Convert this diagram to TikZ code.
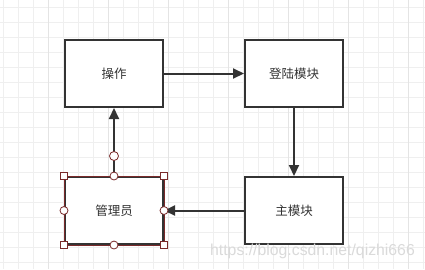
\documentclass[tikz,border=0pt]{standalone}
\usepackage{fontspec}
\newfontfamily\cjk{Noto Sans CJK SC}
\newfontfamily\wmfont{Liberation Sans}
\usetikzlibrary{arrows.meta}
\definecolor{ink}{HTML}{333333}
\definecolor{gridminor}{HTML}{EFEFEF}
\definecolor{gridmajor}{HTML}{E4E4E4}
\definecolor{selred}{HTML}{7A2A2A}
\definecolor{wm}{HTML}{DADADA}
\begin{document}
\begin{tikzpicture}[x=1pt,y=-1pt,
  box/.style={draw=ink,line width=2pt,fill=white,minimum width=98pt,minimum height=67pt,inner sep=0pt,font=\cjk\fontsize{12.5}{14}\selectfont,text=ink},
  conn/.style={draw=ink,line width=2pt,-{Triangle[length=11pt,width=10pt]}},
  hsq/.style={draw=selred,fill=white,line width=0.8pt,minimum size=6.5pt,inner sep=0pt,rectangle},
  hci/.style={draw=selred,fill=white,line width=0.8pt,minimum size=8pt,inner sep=0pt,circle}]
\useasboundingbox (0,0) rectangle (425,269);
\fill[white] (0,0) rectangle (425,269);
% grid
\foreach \i in {0,...,28} {
  \pgfmathsetmacro{\xx}{3+15*\i}
  \draw[gridminor,line width=1pt] (\xx,0) -- (\xx,269);
}
\foreach \j in {0,...,17} {
  \pgfmathsetmacro{\yy}{7+15*\j}
  \draw[gridminor,line width=1pt] (0,\yy) -- (425,\yy);
}
\foreach \xx in {48,108,168,228,288,348,408} {
  \draw[gridmajor,line width=1pt] (\xx,0) -- (\xx,269);
}
% boxes
\node[box] (op) at (114,73.5) {操作};
\node[box] (login) at (294,73.5) {登陆模块};
\node[box] (main) at (294,210.5) {主模块};
\node[box] (admin) at (114,210.5) {管理员};
% connectors
\draw[conn] (op.east) -- (login.west);
\draw[conn] (login.south) -- (main.north);
\draw[conn] (main.west) -- (admin.east);
\draw[conn] (admin.north) -- (op.south);
% selection overlay
\draw[selred,line width=0.8pt] (admin.north west) rectangle (admin.south east);
\node[hsq] (s1) at (admin.north west) {};
\node[hsq] (s2) at (admin.north east) {};
\node[hsq] (s3) at (admin.south west) {};
\node[hsq] (s4) at (admin.south east) {};
\node[hci] (c1) at (admin.north) {};
\node[hci] (c2) at (admin.south) {};
\node[hci] (c3) at (admin.west) {};
\node[hci] (c4) at (admin.east) {};
\node[hci,minimum size=9pt] (c5) at (114,156) {};
% watermark
\node[text=wm,font=\wmfont\fontsize{15.8}{17}\selectfont,anchor=center,inner sep=0pt] (wmark) at (312.5,251) {https://blog.csdn.net/qizhi666};
\end{tikzpicture}
\end{document}
